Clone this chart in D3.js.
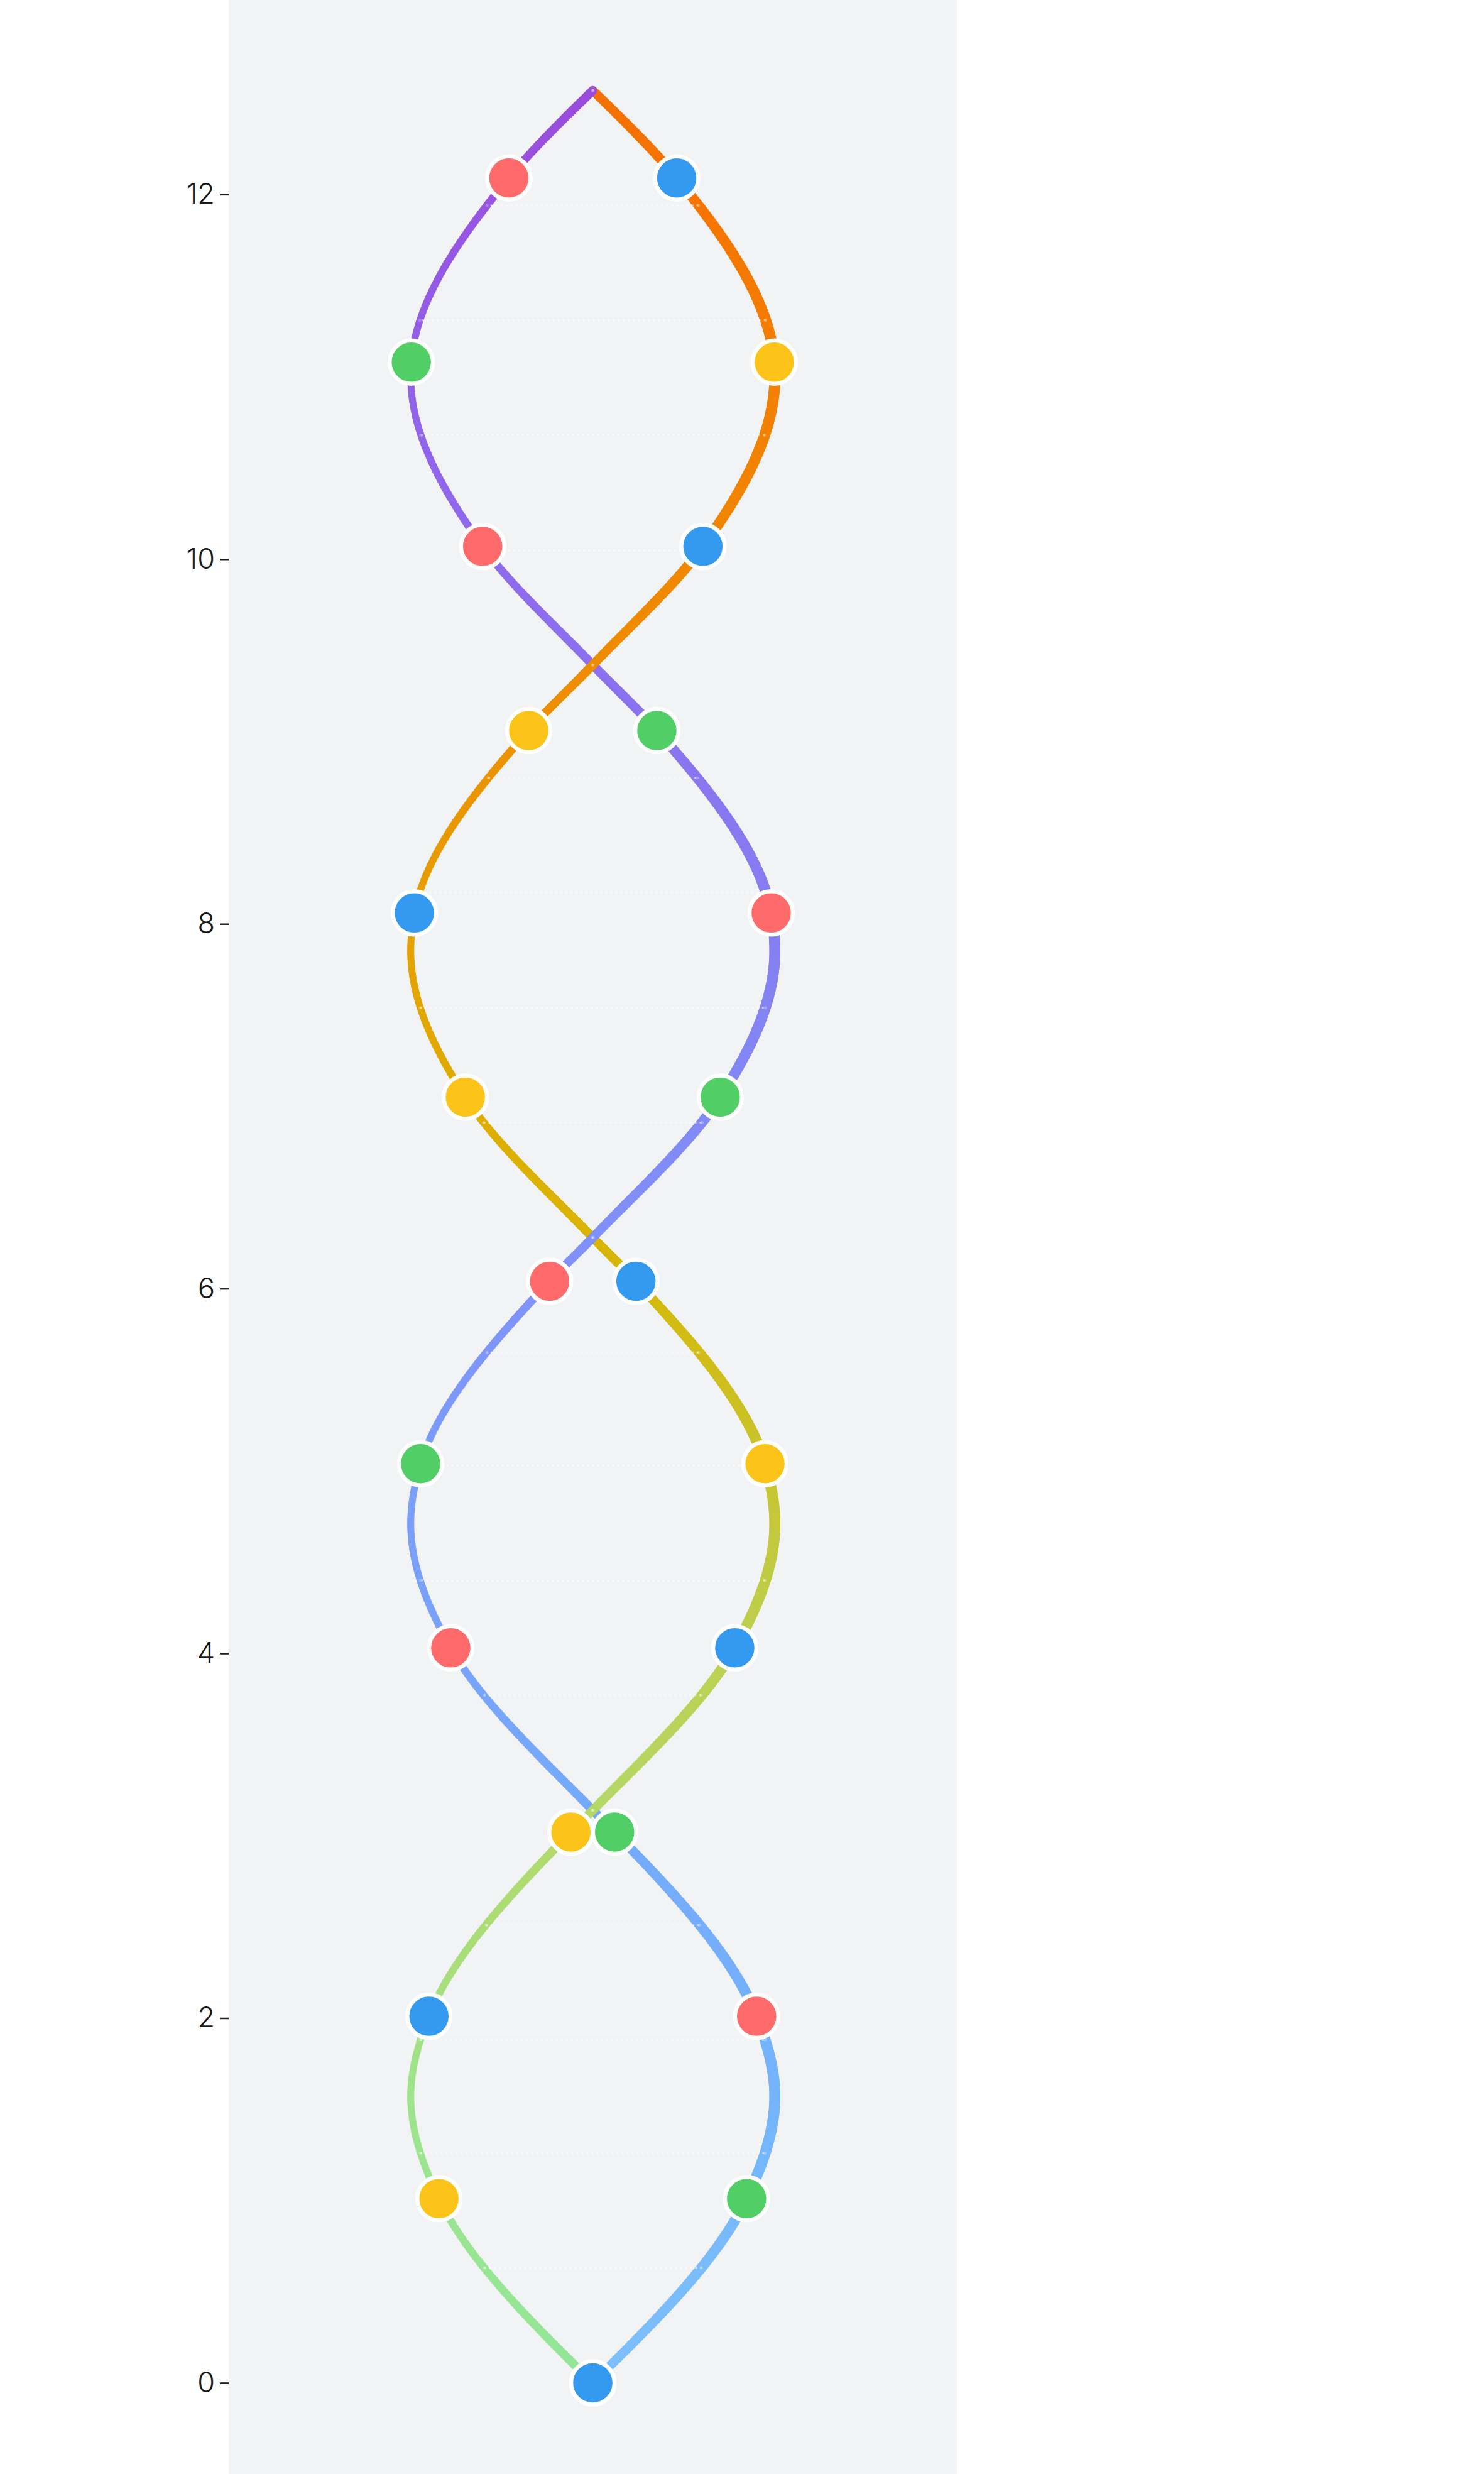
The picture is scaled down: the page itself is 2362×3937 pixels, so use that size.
<!DOCTYPE html>
<html>
<head>
<meta charset="utf-8">
<script src="https://cdn.jsdelivr.net/npm/d3@7"></script>
<style>
  html, body { margin: 0; padding: 0; background: #ffffff; }
  svg { display: block; }
</style>
</head>
<body>
<div id="chart"></div>
<script>
// ---------- data ----------
const yTicks = [0, 2, 4, 6, 8, 10, 12];

// base positions along the helix (vertical value) and the horizontal offsets of each strand
const baseY    = [0, 1.01, 2.01, 3.02, 4.03, 5.04, 6.04, 7.05, 8.06, 9.06, 10.07, 11.08, 12.09];
const strandAX = [0, -0.845, -0.90, -0.12, 0.78, 0.946, 0.237, -0.70, -0.98, -0.352, 0.605, 0.997, 0.461];
const strandBX = [0, 0.845, 0.90, 0.12, -0.78, -0.946, -0.237, 0.70, 0.98, 0.352, -0.605, -0.997, -0.461];
const strandABase = ["C", "A", "C", "A", "C", "A", "C", "A", "C", "A", "C", "A", "C"];
const strandBBase = ["C", "T", "G", "T", "G", "T", "G", "T", "G", "T", "G", "T", "G"];

// turning points and crossings of the strands
const turnY    = [1.57, 4.71, 7.85, 11.0];
const strandATurnX = [-1.0, 1.0, -1.0, 1.0];
const crossY   = [3.14, 6.28, 9.42];
const endY     = 12.57;

// faint rungs between the strands
const rungY = [0, 0.63, 1.26, 1.88, 2.51, 3.14, 3.77, 4.40, 5.03, 5.65, 6.28, 6.91, 7.54,
               8.17, 8.80, 9.42, 10.05, 10.68, 11.31, 11.94, 12.57];

// strand colour stops along the helix
const colorStopY = [0, 1.57, 3.14, 4.71, 6.28, 7.85, 9.42, 11.0, 12.57];
const strandAColors = ["#93e698", "#9ee38c", "#b4d868", "#c4c83a", "#d8b500", "#e4a200", "#ee8c00", "#f47e00", "#f57000"];
const strandBColors = ["#7dc0fb", "#74b4fc", "#76a9fc", "#7a9ffa", "#8090f8", "#8580f2", "#8c70ee", "#9262e8", "#9a4cdc"];

const baseColors = { A: "#fcc419", T: "#51cf66", G: "#ff6b6b", C: "#339af0" };

// ---------- layout ----------
const W = 2362, H = 3937;
const plotLeft = 364, plotRight = 1523;

const svg = d3.select("#chart").append("svg")
  .attr("width", W).attr("height", H)
  .attr("viewBox", `0 0 ${W} ${H}`);

const y = d3.scaleLinear().domain([-0.5, 13.066]).range([H, 0]);
const x = d3.scaleLinear().domain([-2, 2]).range([plotLeft, plotRight]);

svg.append("rect")
  .attr("x", x(-2)).attr("y", 0)
  .attr("width", x(2) - x(-2)).attr("height", H)
  .attr("fill", "#f1f3f5");

// axis
const axis = svg.append("g")
  .attr("transform", `translate(${plotLeft},0)`)
  .call(d3.axisLeft(y).tickValues(yTicks).tickSize(14).tickPadding(8).tickFormat(d3.format("d")));
axis.select(".domain").remove();
axis.selectAll(".tick line").attr("stroke", "#222").attr("stroke-width", 2.5);
axis.selectAll(".tick text")
  .attr("font-family", "Inter, Roboto, sans-serif")
  .attr("font-weight", 300)
  .attr("font-size", 45)
  .attr("fill", "#1a1a1a");

// ---------- strands ----------
function waypoints(xs, turnXs, sign) {
  const pts = baseY.map((v, i) => ({ y: v, x: xs[i] }));
  turnY.forEach((v, i) => pts.push({ y: v, x: sign * turnXs[i] }));
  crossY.forEach(v => pts.push({ y: v, x: 0 }));
  pts.push({ y: endY, x: 0 });
  pts.sort((a, b) => a.y - b.y);
  return pts;
}

const line = d3.line()
  .x(d => x(d.x)).y(d => y(d.y))
  .curve(d3.curveMonotoneY);

const colorA = d3.scaleLinear().domain(colorStopY).range(strandAColors).interpolate(d3.interpolateRgb);
const colorB = d3.scaleLinear().domain(colorStopY).range(strandBColors).interpolate(d3.interpolateRgb);

const strands = [
  { pts: waypoints(strandAX, strandATurnX, 1), color: colorA },
  { pts: waypoints(strandBX, strandATurnX, -1), color: colorB }
];

const tmp = svg.append("path").attr("fill", "none").attr("stroke", "none");
const samples = [];
const segments = [];
strands.forEach((s, si) => {
  tmp.attr("d", line(s.pts));
  const node = tmp.node();
  const len = node.getTotalLength();
  const step = 3.5;
  const n = Math.ceil(len / step);
  const arr = [];
  for (let i = 0; i <= n; i++) {
    const p = node.getPointAtLength(Math.min(len, i * step));
    arr.push({ px: p.x, py: p.y });
  }
  samples.push(arr);
  for (let i = 0; i < arr.length - 1; i++) {
    const a = arr[i], b = arr[i + 1];
    const mx = (a.px + b.px) / 2, my = (a.py + b.py) / 2;
    const dyUp = a.py - b.py;
    const depth = Math.abs(dyUp) > 1e-6 ? (b.px - a.px) / dyUp : 0;
    segments.push({
      x1: a.px, y1: a.py, x2: b.px, y2: b.py,
      color: s.color(y.invert(my)),
      width: 14.2 + 3.3 * x.invert(mx),
      depth: depth, strand: si
    });
  }
});
tmp.remove();

segments.sort((a, b) => a.depth - b.depth);

svg.append("g").attr("class", "strands")
  .selectAll("line").data(segments).join("line")
  .attr("x1", d => d.x1).attr("y1", d => d.y1)
  .attr("x2", d => d.x2).attr("y2", d => d.y2)
  .attr("stroke", d => d.color)
  .attr("stroke-width", d => d.width)
  .attr("stroke-linecap", "round")
  .attr("stroke-opacity", 0.9);

// ---------- rungs ----------
function nearest(arr, py) {
  let best = arr[0], bd = Infinity;
  for (const p of arr) { const d = Math.abs(p.py - py); if (d < bd) { bd = d; best = p; } }
  return best;
}
const rungs = rungY.map(v => {
  const py = y(v);
  return { a: nearest(samples[0], py), b: nearest(samples[1], py), py: py };
});
const rg = svg.append("g").attr("class", "rungs");
rg.selectAll("line").data(rungs).join("line")
  .attr("x1", d => d.a.px).attr("x2", d => d.b.px)
  .attr("y1", d => d.py).attr("y2", d => d.py)
  .attr("stroke", "#ffffff").attr("stroke-width", 3)
  .attr("stroke-dasharray", "3 5").attr("stroke-opacity", 0.55);
rg.selectAll("circle").data(rungs.flatMap(d => [{ px: d.a.px, py: d.py }, { px: d.b.px, py: d.py }]))
  .join("circle")
  .attr("cx", d => d.px).attr("cy", d => d.py).attr("r", 2.5)
  .attr("fill", "#ffffff").attr("fill-opacity", 0.25);

// ---------- bases ----------
const basePts = [];
baseY.forEach((v, i) => basePts.push({ y: v, x: strandAX[i], b: strandABase[i] }));
baseY.forEach((v, i) => basePts.push({ y: v, x: strandBX[i], b: strandBBase[i] }));

svg.append("g").attr("class", "bases")
  .selectAll("circle").data(basePts).join("circle")
  .attr("cx", d => x(d.x)).attr("cy", d => y(d.y))
  .attr("r", 34.5)
  .attr("fill", d => baseColors[d.b])
  .attr("stroke", "#ffffff").attr("stroke-width", 6.5);
</script>
</body>
</html>
